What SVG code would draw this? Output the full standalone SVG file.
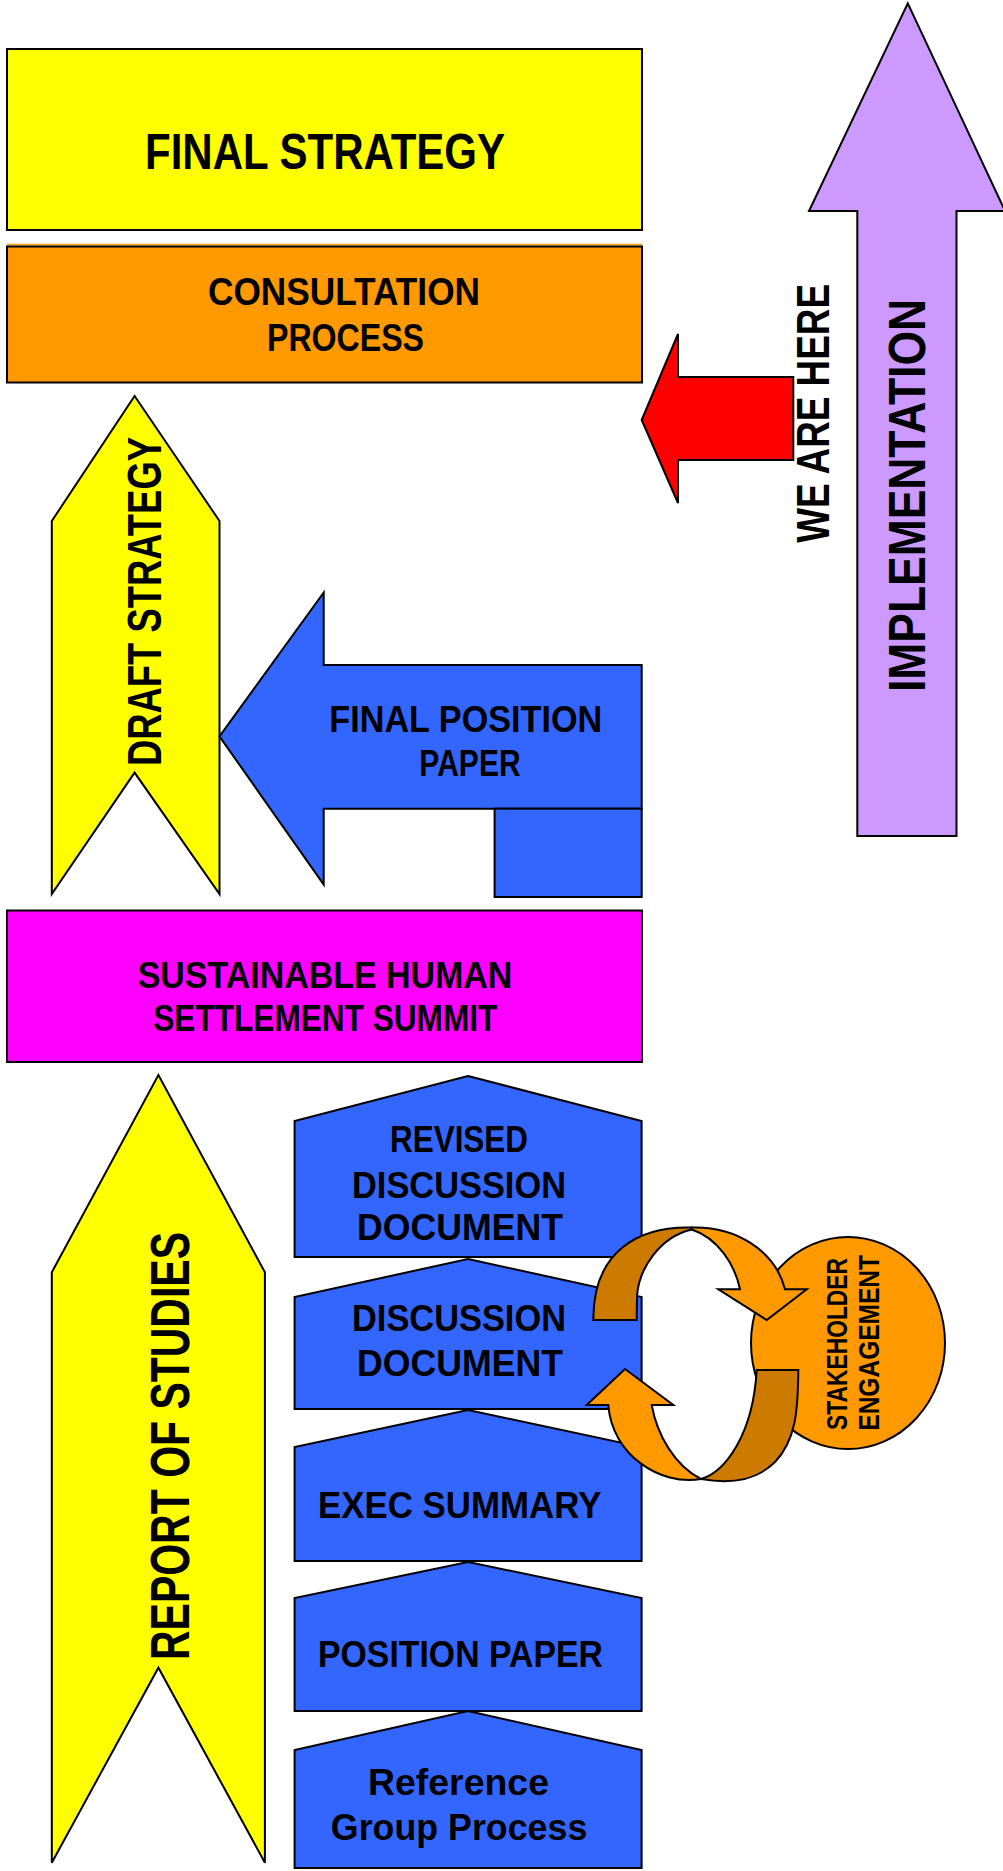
<svg xmlns="http://www.w3.org/2000/svg" width="1003" height="1871" viewBox="0 0 1003 1871">
<style>
.s{stroke:#000;stroke-width:2;stroke-linejoin:miter}
.t{font-family:"Liberation Sans",Arial,sans-serif;font-weight:bold;fill:#000}
.y{fill:#FFFF00}.o{fill:#FF9900}.b{fill:#3366FF}.m{fill:#FF00FF}.p{fill:#CC99FF}.r{fill:#FF0000}.d{fill:#CC7A00}
</style>
<rect width="1003" height="1871" fill="#fff"/>

<g id="final-strategy">
<rect class="s y" x="7" y="49" width="635" height="181"/>
<text class="t" x="145" y="169" font-size="50" textLength="360" lengthAdjust="spacingAndGlyphs">FINAL STRATEGY</text>
</g>

<g id="consultation-process">
<line x1="7" y1="244.5" x2="642" y2="244.5" stroke="#FF9900" stroke-width="1.5"/>
<rect class="s o" x="7" y="246.5" width="635" height="136"/>
<text class="t" x="208" y="305" font-size="39" textLength="272" lengthAdjust="spacingAndGlyphs">CONSULTATION</text>
<text class="t" x="267" y="351" font-size="39" textLength="157" lengthAdjust="spacingAndGlyphs">PROCESS</text>
</g>

<g id="implementation">
<path class="s p" d="M907.8,3.3 L1005,211 L956.5,211 L956.5,836 L857.3,836 L857.3,211 L809,211 Z"/>
<text class="t" transform="translate(924.5,692) rotate(-90)" x="0" y="0" font-size="51" textLength="393" lengthAdjust="spacingAndGlyphs">IMPLEMENTATION</text>
</g>

<g id="we-are-here">
<path class="s r" d="M641.7,420 L678,334 L678,377 L793.3,377 L793.3,460 L678,460 L678,503 Z"/>
<text class="t" transform="translate(829,542.7) rotate(-90)" x="0" y="0" font-size="46" textLength="258.7" lengthAdjust="spacingAndGlyphs">WE ARE HERE</text>
</g>

<g id="draft-strategy">
<path class="s y" d="M134.6,396 L219.5,521 L219.5,894 L134.6,772.6 L51.8,894 L51.8,521 Z"/>
<text class="t" transform="translate(161,766) rotate(-90)" x="0" y="0" font-size="47.5" textLength="329" lengthAdjust="spacingAndGlyphs">DRAFT STRATEGY</text>
</g>

<g id="final-position-paper">
<path class="s b" d="M219.5,736.4 L323.7,592.5 L323.7,665 L641.7,665 L641.7,808.7 L323.7,808.7 L323.7,884.5 Z"/>
<rect class="s b" x="494.6" y="808.7" width="147.1" height="88.3"/>
<text class="t" x="329.3" y="732.3" font-size="36.7" textLength="273" lengthAdjust="spacingAndGlyphs">FINAL POSITION</text>
<text class="t" x="419.3" y="775.7" font-size="36.7" textLength="101.4" lengthAdjust="spacingAndGlyphs">PAPER</text>
</g>

<g id="sustainable-human-settlement-summit">
<rect class="s m" x="7" y="910.5" width="635" height="151.5"/>
<text class="t" x="137.7" y="987.7" font-size="36.3" textLength="374.6" lengthAdjust="spacingAndGlyphs">SUSTAINABLE HUMAN</text>
<text class="t" x="153.3" y="1030.7" font-size="36.3" textLength="344" lengthAdjust="spacingAndGlyphs">SETTLEMENT SUMMIT</text>
</g>

<g id="report-of-studies">
<path class="s y" d="M158.4,1075 L264.9,1272.3 L264.9,1862.7 L158.4,1667.7 L51.8,1862.7 L51.8,1272.3 Z"/>
<text class="t" transform="translate(189,1660) rotate(-90)" x="0" y="0" font-size="56" textLength="428" lengthAdjust="spacingAndGlyphs">REPORT OF STUDIES</text>
</g>

<g id="reference-group-process">
<path class="s b" d="M468,1711 L641.6,1750 L641.6,1868 L294.6,1868 L294.6,1750 Z"/>
<text class="t" x="368" y="1795" font-size="37" textLength="181" lengthAdjust="spacingAndGlyphs">Reference</text>
<text class="t" x="330.8" y="1840" font-size="37" textLength="256.5" lengthAdjust="spacingAndGlyphs">Group Process</text>
</g>

<g id="position-paper">
<path class="s b" d="M468,1562 L641.6,1598 L641.6,1711 L294.6,1711 L294.6,1598 Z"/>
<text class="t" x="318" y="1667.3" font-size="37" textLength="285" lengthAdjust="spacingAndGlyphs">POSITION PAPER</text>
</g>

<g id="exec-summary">
<path class="s b" d="M468,1410 L641.6,1447 L641.6,1561 L294.6,1561 L294.6,1447 Z"/>
<text class="t" x="318" y="1518" font-size="37" textLength="283.4" lengthAdjust="spacingAndGlyphs">EXEC SUMMARY</text>
</g>

<g id="discussion-document">
<path class="s b" d="M468,1259 L641.6,1297 L641.6,1409 L294.6,1409 L294.6,1297 Z"/>
<text class="t" x="352" y="1330.7" font-size="37" textLength="214" lengthAdjust="spacingAndGlyphs">DISCUSSION</text>
<text class="t" x="357" y="1375.7" font-size="37" textLength="206" lengthAdjust="spacingAndGlyphs">DOCUMENT</text>
</g>

<g id="revised-discussion-document">
<path class="s b" d="M468,1076 L641.6,1121 L641.6,1257 L294.6,1257 L294.6,1121 Z"/>
<text class="t" x="390" y="1152.3" font-size="37" textLength="138" lengthAdjust="spacingAndGlyphs">REVISED</text>
<text class="t" x="352" y="1198.3" font-size="37" textLength="214" lengthAdjust="spacingAndGlyphs">DISCUSSION</text>
<text class="t" x="357" y="1240" font-size="37" textLength="206" lengthAdjust="spacingAndGlyphs">DOCUMENT</text>
</g>

<g id="stakeholder-engagement">
<ellipse class="s o" cx="848" cy="1343" rx="97" ry="106"/>
<text class="t" transform="translate(847.3,1430) rotate(-90)" x="0" y="0" font-size="29" textLength="172" lengthAdjust="spacingAndGlyphs">STAKEHOLDER</text>
<text class="t" transform="translate(879,1430.7) rotate(-90)" x="0" y="0" font-size="29" textLength="175.7" lengthAdjust="spacingAndGlyphs">ENGAGEMENT</text>
</g>

<g id="connectors">
<path class="s d" d="M593.3,1320 L636.7,1320 L637,1296 C639,1268 660,1237 691.7,1229.5 L691.7,1227.5 C640,1226 593,1250 593.3,1320 Z"/>
<path class="s o" d="M691.7,1227.5 C735,1226 775,1250 785,1289.3 L806.7,1289.3 L766.7,1320 L718.3,1289.3 L740,1289.3 C735,1265 718,1238 691.7,1229.5 Z"/>
<path class="s d" d="M756.7,1370 L798.3,1370 C798,1410 796,1440 775,1462 C758,1479 735,1485 701,1479 C725,1472 753,1435 756.7,1370 Z"/>
<path class="s o" d="M701,1479 C660,1486 612,1455 608.3,1405 L586.7,1405 L625,1369 L673.3,1405 L651.7,1405 C657,1435 675,1466 701,1479 Z"/>
</g>
</svg>
